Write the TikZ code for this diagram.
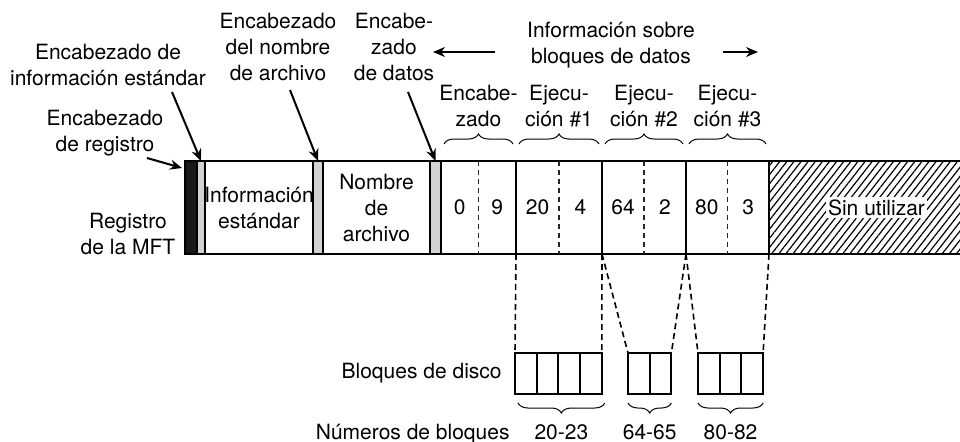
\documentclass[tikz,border=0pt]{standalone}
\usepackage{fontspec}
\setmainfont{TeX Gyre Heros}
\usepackage{tikz}
\usetikzlibrary{arrows.meta,positioning,calc,patterns.meta,decorations.pathreplacing}
\tikzset{
  recpart/.style={draw, line width=1pt, minimum height=46.5pt, inner sep=0pt, outer sep=0pt, align=center},
  darkbar/.style={recpart, fill=black!90, minimum width=6pt},
  graybar/.style={recpart, fill=gray!35, minimum width=#1},
  infocell/.style={recpart, minimum width=#1},
  lbl/.style={align=center, inner sep=1pt},
  arr/.style={-{Stealth[length=6pt,width=5pt]}, line width=1pt},
  halfline/.style={dash pattern=on 2.5pt off 2pt, line width=0.6pt, black!85},
  link/.style={dash pattern=on 3pt off 2pt, line width=0.8pt},
  brace/.style={decorate, decoration={brace, amplitude=5pt}, line width=0.5pt},
  dblk/.style={draw, line width=1pt, minimum width=10.85pt, minimum height=20.5pt, inner sep=0pt, outer sep=0pt},
}

\begin{document}
\begin{tikzpicture}[x=0.5pt, y=0.5pt, font=\fontsize{10.5pt}{13pt}\selectfont]
  \useasboundingbox (0,0) rectangle (960,441);

  % MFT record
  \node[darkbar, anchor=south west] (recbar) at (185,187) {};
  \node[graybar=4pt, right=0pt of recbar] (stdbar) {};
  \node[infocell=54pt, right=0pt of stdbar] (stdinfo) {};
  \node[graybar=5pt, right=0pt of stdinfo] (namebar) {};
  \node[infocell=53.5pt, right=0pt of namebar] (fname) {};
  \node[graybar=5.5pt, right=0pt of fname] (databar) {};
  \node[infocell=37.5pt, right=0pt of databar] (hdr) {};
  \node[infocell=43pt, right=0pt of hdr] (runa) {};
  \node[infocell=42pt, right=0pt of runa] (runb) {};
  \node[infocell=41.5pt, right=0pt of runb] (runc) {};
  \node[recpart, draw=none, pattern={Lines[angle=52, distance=2.8pt, line width=0.6pt]}, minimum width=95.5pt, right=0pt of runc] (unused) {};
  \node[lbl, inner sep=0pt] (stdtext) at (stdinfo) {Información\\estándar};
  \node[lbl] (nametext) at (fname) {Nombre\\de\\archivo};
  \node[fill=white, inner sep=1pt] (unusedlbl) at ([xshift=6pt]unused.center) {Sin utilizar};
  \draw[line width=1pt] (recbar.north west) -- (unused.north east);
  \draw[line width=1pt] (recbar.south west) -- (unused.south east);
  \draw[link] (unused.north west) -- (unused.south west);

  % pairs inside the data header and the runs
  \foreach \c/\a/\b in {hdr/0/9, runa/20/4, runb/64/2, runc/80/3} {
    \draw[halfline] (\c.north) -- (\c.south);
    \node (\c-a) at ($(\c.west)!0.25!(\c.east)$) {\a};
    \node (\c-b) at ($(\c.west)!0.75!(\c.east)$) {\b};
  }

  % braces over the pairs
  \foreach \c/\t in {hdr/{Encabe-\\zado}, runa/{Ejecu-\\ción \#1}, runb/{Ejecu-\\ción \#2}, runc/{Ejecu-\\ción \#3}} {
    \draw[brace] ([xshift=1.5pt,yshift=8.5pt]\c.north west) -- ([xshift=-1.5pt,yshift=8.5pt]\c.north east)
      node[lbl, midway, above=7.5pt] (\c-lbl) {\t};
  }

  % labels and arrows
  \node[lbl] (mftlbl) at (128,207) {Registro\\de la MFT};
  \node[lbl] (reglbl) at (105,308) {Encabezado\\de registro};
  \node[lbl] (stdhdrlbl) at (108,376) {Encabezado de\\información estándar};
  \node[lbl] (namehdrlbl) at (278,394) {Encabezado\\del nombre\\de archivo};
  \node[lbl] (datahdrlbl) at (394,394) {Encabe-\\zado\\de datos};
  \node[lbl] (blocklbl) at (611,396) {Información sobre\\bloques de datos};

  \coordinate (regtail) at (147,283);
  \coordinate (stdtail) at (172,349);
  \coordinate (nametail) at (290,351);
  \coordinate (datatail) at (408,349);
  \draw[arr] (regtail) -- ([xshift=-1.5pt,yshift=-3.5pt]recbar.north west);
  \draw[arr] (stdtail) -- (stdbar.north);
  \draw[arr] (nametail) -- (namebar.north);
  \draw[arr] (datatail) -- (databar.north);

  \coordinate (lhead) at (433,389);
  \coordinate (rhead) at (758,389);
  \draw[arr] (495,389) coordinate (ltail) -- (lhead);
  \draw[arr] (723,389) coordinate (rtail) -- (rhead);

  % disk blocks
  \node[dblk, anchor=north west] (ga1) at (515,88) {};
  \foreach \i [count=\j from 1] in {2,3,4} \node[dblk, right=0pt of ga\j] (ga\i) {};
  \node[dblk, anchor=north west] (gb1) at (628,88) {};
  \node[dblk, right=0pt of gb1] (gb2) {};
  \node[dblk, anchor=north west] (gc1) at (698,88) {};
  \foreach \i [count=\j from 1] in {2,3} \node[dblk, right=0pt of gc\j] (gc\i) {};

  \draw[link] (runa.south west) -- (ga1.north west);
  \draw[link] (runa.south east) -- (ga4.north east);
  \draw[link] (runb.south west) -- (gb1.north west);
  \draw[link] (runc.south west) -- (gb2.north east);
  \draw[link] (runc.south west) -- (gc1.north west);
  \draw[link] (unused.south west) -- (gc3.north east);

  % braces under the blocks
  \draw[brace, decoration={mirror}] ([xshift=1.5pt,yshift=-4.5pt]ga1.south west) -- ([xshift=1.5pt,yshift=-4.5pt]ga4.south east)
    node[lbl, midway, below=9.5pt] (galbl) {20-23};
  \draw[brace, decoration={mirror}] ([yshift=-4.5pt]gb1.south west) -- ([yshift=-4.5pt]gb2.south east)
    node[lbl, midway, below=9.5pt] (gblbl) {64-65};
  \draw[brace, decoration={mirror}] ([yshift=-4.5pt]gc1.south west) -- ([yshift=-4.5pt]gc3.south east)
    node[lbl, midway, below=9.5pt] (gclbl) {80-82};

  \node[lbl, left=5.5pt of ga1.west |- ga1.center] (disklbl) {Bloques de disco};
  \node[lbl, anchor=base east] (numlbl) at ([xshift=4pt]disklbl.east |- galbl.base) {Números de bloques};
\end{tikzpicture}
\end{document}
